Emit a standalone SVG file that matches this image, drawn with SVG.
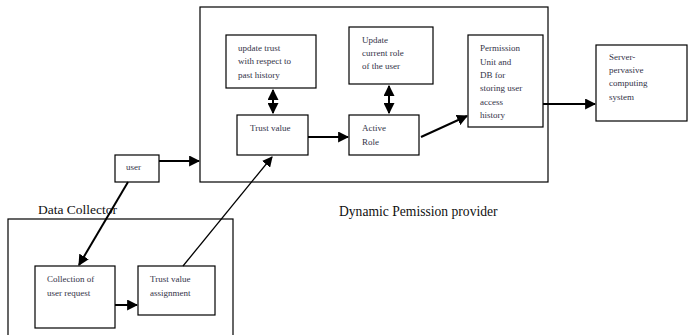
<svg xmlns="http://www.w3.org/2000/svg" width="689" height="335" viewBox="0 0 689 335">
<defs>
<style>
.box{fill:#fff;stroke:#000;stroke-width:1.2}
.t{font-family:"Liberation Serif",serif;font-size:9px;fill:#333348}
.lbl{font-family:"Liberation Serif",serif;fill:#111}
.c{stroke:#000;stroke-width:2;fill:none}
</style>
<marker id="ah" viewBox="0 0 10 10" refX="9" refY="5" markerWidth="5.5" markerHeight="5.5" orient="auto-start-reverse" markerUnits="strokeWidth">
<path d="M0,0 L10,5 L0,10 z" fill="#000"/>
</marker>
<marker id="ah2" viewBox="0 0 10 10" refX="9" refY="5" markerWidth="8" markerHeight="8" orient="auto" markerUnits="strokeWidth">
<path d="M0,0 L10,5 L0,10 z" fill="#000"/>
</marker>
</defs>
<rect width="689" height="335" fill="#fff"/>
<g id="dynamic-provider">
<rect class="box" x="200" y="7" width="348" height="175"/>
<text class="lbl" x="339" y="216" font-size="13.6">Dynamic Pemission provider</text>
</g>
<g id="data-collector">
<rect class="box" x="8" y="219" width="225" height="130"/>
<text class="lbl" x="38" y="214" font-size="13.5">Data Collector</text>
</g>
<g id="update-trust">
<rect class="box" x="226" y="35" width="90" height="53"/>
<text class="t" x="238" y="51">update trust</text>
<text class="t" x="238" y="64">with respect to</text>
<text class="t" x="238" y="78">past history</text>
</g>
<g id="trust-value">
<rect class="box" x="237" y="115" width="71" height="40"/>
<text class="t" x="250" y="131">Trust value</text>
</g>
<g id="update-role">
<rect class="box" x="349" y="27" width="84" height="57"/>
<text class="t" x="362" y="43">Update</text>
<text class="t" x="362" y="56">current role</text>
<text class="t" x="362" y="69">of the user</text>
</g>
<g id="active-role">
<rect class="box" x="349" y="115" width="70" height="40"/>
<text class="t" x="362" y="131">Active</text>
<text class="t" x="362" y="145">Role</text>
</g>
<g id="permission-unit">
<rect class="box" x="468" y="35" width="75" height="92"/>
<text class="t" x="480" y="51">Permission</text>
<text class="t" x="480" y="65">Unit and</text>
<text class="t" x="480" y="78">DB for</text>
<text class="t" x="480" y="91">storing user</text>
<text class="t" x="480" y="105">access</text>
<text class="t" x="480" y="118">history</text>
</g>
<g id="server">
<rect class="box" x="596" y="45" width="91" height="76"/>
<text class="t" x="609" y="60">Server-</text>
<text class="t" x="609" y="73">pervasive</text>
<text class="t" x="609" y="86">computing</text>
<text class="t" x="609" y="100">system</text>
</g>
<g id="user">
<rect class="box" x="115" y="155" width="44" height="27"/>
<text class="t" x="126" y="170">user</text>
</g>
<g id="collection">
<rect class="box" x="35" y="266" width="80" height="62"/>
<text class="t" x="47" y="282">Collection of</text>
<text class="t" x="47" y="296">user request</text>
</g>
<g id="trust-assignment">
<rect class="box" x="138" y="266" width="77" height="49"/>
<text class="t" x="150" y="282">Trust value</text>
<text class="t" x="150" y="296">assignment</text>
</g>
<g id="connectors">
<line class="c" x1="273" y1="90" x2="273" y2="113" marker-start="url(#ah)" marker-end="url(#ah)"/>
<line class="c" x1="389" y1="86" x2="389" y2="113" marker-start="url(#ah)" marker-end="url(#ah)"/>
<line class="c" x1="308" y1="137" x2="348" y2="137" marker-end="url(#ah)"/>
<line class="c" x1="421" y1="137" x2="467" y2="116" marker-end="url(#ah)"/>
<line class="c" x1="543" y1="104" x2="595" y2="104" marker-end="url(#ah)"/>
<line class="c" x1="159" y1="161" x2="199" y2="161" marker-end="url(#ah)"/>
<line class="c" x1="128" y1="182" x2="79" y2="265" marker-end="url(#ah)"/>
<line x1="183" y1="266" x2="272" y2="157" stroke="#000" stroke-width="1.3" marker-end="url(#ah2)"/>
<line class="c" x1="115" y1="305" x2="137" y2="305" marker-end="url(#ah)"/>
</g>
</svg>
